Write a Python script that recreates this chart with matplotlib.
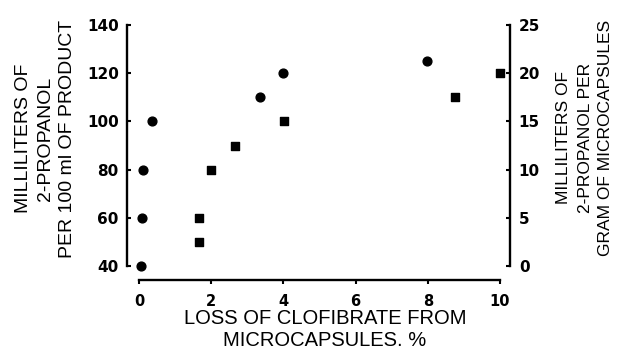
import matplotlib
matplotlib.use("Agg")
from matplotlib import pyplot as plt

plt.rcParams['font.family'] = ['Liberation Sans', 'DejaVu Sans']

# circles: left axis (ml per 100 ml product)
circle_x = [0.05, 0.08, 0.12, 0.36, 3.35, 4.0, 7.99]
circle_y = [40, 60, 80, 100, 110, 120, 125]

# squares: right axis (ml per gram of microcapsules)
square_x = [1.65, 1.67, 2.0, 2.67, 4.02, 8.75, 10.0]
square_y = [5, 2.5, 10, 12.5, 15, 17.5, 20]

x_ticks = [0, 2, 4, 6, 8, 10]
left_ticks = [40, 60, 80, 100, 120, 140]
right_ticks = [0, 5, 10, 15, 20, 25]

W, H = 618, 349
fig = plt.figure(figsize=(W / 100, H / 100), dpi=100)
ax = fig.add_axes([139 / W, 1 - 266 / H, 361 / W, 241 / H])
ax2 = ax.twinx()

ax.scatter(circle_x, circle_y, s=40, marker='o', color='black', clip_on=False, zorder=3)
ax2.scatter(square_x, square_y, s=32, marker='s', color='black', clip_on=False, zorder=3)

ax.set_xlim(0, 10)
ax.set_ylim(40, 140)
ax2.set_ylim(0, 25)

for a in (ax, ax2):
    a.spines['top'].set_visible(False)
    for s in a.spines.values():
        s.set_linewidth(1.7)

ax.spines['right'].set_visible(False)
ax2.spines['left'].set_visible(False)
ax2.spines['bottom'].set_visible(False)
ax.spines['left'].set_position(('outward', 8.6))
ax.spines['bottom'].set_position(('outward', 10.2))
ax2.spines['right'].set_position(('outward', 7.5))

ax.set_xticks(x_ticks)
ax.set_yticks(left_ticks)
ax2.set_yticks(right_ticks)

tick_font = {'family': ['DejaVu Sans'], 'weight': 'bold'}
ax.tick_params(axis='x', direction='out', length=3, width=1.5, pad=7)
ax.tick_params(axis='y', direction='in', length=3, width=1.5, pad=6)
ax2.tick_params(axis='y', direction='in', length=3, width=1.5, pad=6)
for lab in ax.get_xticklabels():
    lab.set(fontsize=10.5, **tick_font)
for lab in ax.get_yticklabels() + ax2.get_yticklabels():
    lab.set(fontsize=11, **tick_font)

fig.text(325 / W, 1 - 330 / H, 'LOSS OF CLOFIBRATE FROM\nMICROCAPSULES. %',
         fontsize=14.5, linespacing=1.2, ha='center', va='center', multialignment='center')
fig.text(45.5 / W, 1 - 138.5 / H, 'MILLILITERS OF\n2-PROPANOL\nPER 100 ml OF PRODUCT',
         fontsize=14, linespacing=1.4, rotation=90, ha='center', va='center', multialignment='center')
fig.text(585 / W, 1 - 137.5 / H, 'MILLILITERS OF\n2-PROPANOL PER\nGRAM OF MICROCAPSULES',
         fontsize=12.5, linespacing=1.5, rotation=90, ha='center', va='center', multialignment='center')

plt.savefig('out.png', dpi=100)
